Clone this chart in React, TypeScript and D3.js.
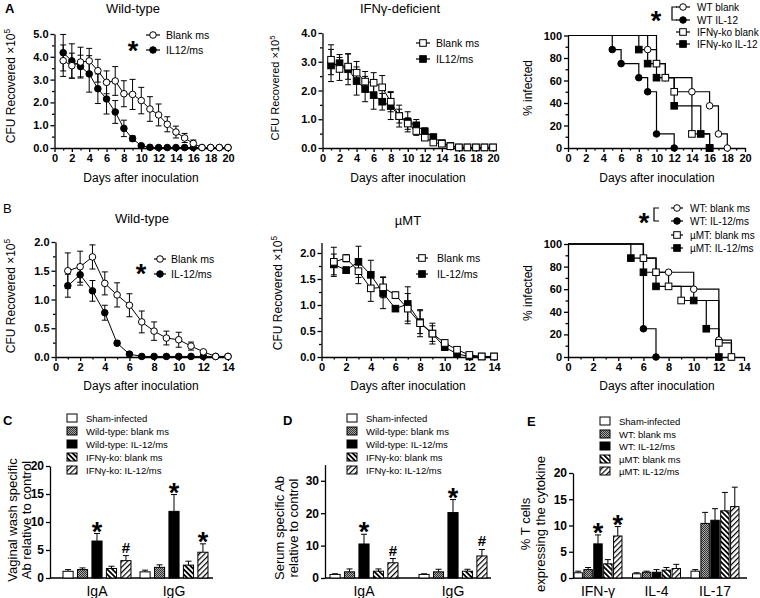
import React, { useEffect, useRef } from 'react'
import * as d3 from 'd3'

const FONT = "'Liberation Sans', Arial, Helvetica, sans-serif"

// ---- A: CFU time course, days 1-20
const daysA = [1, 2, 3, 4, 5, 6, 7, 8, 9, 10, 11, 12, 13, 14, 15, 16, 17, 18, 19, 20]
const wtBlankA = [3.83, 3.61, 3.77, 3.82, 3.39, 2.88, 2.94, 2.38, 2.35, 2.08, 1.71, 1.45, 1.04, 0.70, 0.44, 0.20, 0.02, 0.02, 0.02, 0.02]
const wtBlankAErr = [0.69, 0.55, 0.65, 0.55, 0.50, 0.50, 0.63, 0.57, 0.66, 0.58, 0.54, 0.48, 0.33, 0.26, 0.20, 0.15, 0, 0, 0, 0]
const wtIl12A = [4.18, 3.82, 3.57, 3.25, 2.60, 2.15, 1.58, 0.86, 0.41, 0.10, 0.03, 0.02, 0.02, 0.02, 0.02, 0.02, 0.02, 0.02, 0.02, 0.02]
const wtIl12AErr = [0.80, 0.75, 0.50, 0.80, 0.65, 0.66, 0.50, 0.36, 0.12, 0.04, 0, 0, 0, 0, 0, 0, 0, 0, 0, 0]
const koBlankA = [3.07, 2.75, 2.83, 2.62, 2.31, 2.27, 2.11, 1.61, 1.11, 0.85, 0.59, 0.36, 0.19, 0.15, 0.06, 0.02, 0.02, 0.02, 0.02, 0.02]
const koBlankAErr = [0.52, 0.40, 0.44, 0.39, 0.35, 0.35, 0.41, 0.35, 0.24, 0.20, 0.15, 0.10, 0.08, 0.05, 0.03, 0, 0, 0, 0, 0]
const koIl12A = [2.87, 2.95, 2.74, 2.33, 2.05, 1.84, 1.61, 1.46, 1.11, 0.91, 0.79, 0.58, 0.38, 0.17, 0.07, 0.02, 0.02, 0.02, 0.02, 0.02]
const koIl12AErr = [0.56, 0.30, 0.54, 0.49, 0.44, 0.49, 0.29, 0.47, 0.38, 0.35, 0.20, 0.12, 0.10, 0.05, 0.03, 0, 0, 0, 0, 0]

// ---- A: % infected (step curves: day of change, value)
const survA = [
  { label: 'WT blank', shape: 'circle', filled: false, t: [0, 9, 10, 11, 14, 16, 17, 18], v: [100, 87.5, 75, 62.5, 50, 37.5, 12.5, 0] },
  { label: 'WT IL-12', shape: 'circle', filled: true, t: [0, 5, 6, 8, 9, 10, 12], v: [100, 87.5, 75, 62.5, 50, 12.5, 0] },
  { label: 'IFNγ-ko blank', shape: 'square', filled: false, t: [0, 10, 11, 12, 14, 16], v: [100, 75, 62.5, 50, 12.5, 0] },
  { label: 'IFNγ-ko IL-12', shape: 'square', filled: true, t: [0, 8, 9, 10, 12, 15, 16], v: [100, 87.5, 75, 62.5, 37.5, 12.5, 0] },
]

// ---- B: CFU time course, days 1-14
const daysB = [1, 2, 3, 4, 5, 6, 7, 8, 9, 10, 11, 12, 13, 14]
const wtBlankB = [1.50, 1.57, 1.74, 1.28, 1.08, 0.90, 0.61, 0.45, 0.33, 0.30, 0.19, 0.09, 0.01, 0.01]
const wtBlankBErr = [0.31, 0.27, 0.21, 0.20, 0.21, 0.20, 0.19, 0.16, 0.12, 0.13, 0.07, 0.02, 0, 0]
const wtIl12B = [1.24, 1.43, 1.15, 0.77, 0.24, 0.05, 0.01, 0.01, 0.01, 0.01, 0.01, 0.01, 0.01, 0.01]
const wtIl12BErr = [0.20, 0.18, 0.18, 0.13, 0.04, 0.01, 0, 0, 0, 0, 0, 0, 0, 0]
const muBlankB = [1.83, 1.90, 1.65, 1.32, 1.34, 1.19, 0.93, 0.65, 0.45, 0.27, 0.14, 0.04, 0.01, 0.01]
const muBlankBErr = [0.28, 0.07, 0.24, 0.25, 0.20, 0.06, 0.29, 0.26, 0.20, 0.06, 0.03, 0.02, 0, 0]
const muIl12B = [1.78, 1.67, 1.83, 1.58, 1.23, 0.93, 1.02, 0.67, 0.45, 0.19, 0.06, 0.01, 0.01, 0.01]
const muIl12BErr = [0.20, 0.06, 0.30, 0.28, 0.30, 0.05, 0.33, 0.22, 0.15, 0.06, 0.03, 0, 0, 0]

const survB = [
  { label: 'WT: blank ms', shape: 'circle', filled: false, t: [0, 6, 7, 8, 10, 12, 13], v: [100, 87.5, 75, 75, 60, 15, 0] },
  { label: 'WT: IL-12/ms', shape: 'circle', filled: true, t: [0, 6, 7], v: [100, 25, 0] },
  { label: 'µMT: blank ms', shape: 'square', filled: false, t: [0, 6, 7, 8, 9, 12, 13], v: [100, 87.5, 75, 62.5, 50, 12.5, 0] },
  { label: 'µMT: IL-12/ms', shape: 'square', filled: true, t: [0, 5, 6, 7, 10, 11, 12], v: [100, 87.5, 75, 62.5, 50, 25, 0] },
]

// ---- C / D / E bar charts
const abGroups = ['IgA', 'IgG']
const koLegend = ['Sham-infected', 'Wild-type: blank ms', 'Wild-type: IL-12/ms', 'IFNγ-ko: blank ms', 'IFNγ-ko: IL-12/ms']
const vagIgA = [1.2, 1.5, 6.6, 1.7, 3.1]
const vagIgAErr = [0.3, 0.3, 1.35, 0.4, 0.9]
const vagIgG = [1.1, 1.9, 11.9, 2.3, 4.6]
const vagIgGErr = [0.3, 0.45, 3.0, 0.7, 1.5]
const vagMarks = [['', '', '*', '', '#'], ['', '', '*', '', '*']]

const serIgA = [1.1, 1.9, 10.5, 2.1, 4.7]
const serIgAErr = [0.2, 0.9, 3.0, 0.7, 1.3]
const serIgG = [1.1, 1.9, 20.2, 2.1, 6.8]
const serIgGErr = [0.2, 0.8, 4.0, 0.6, 2.0]
const serMarks = [['', '', '*', '', '#'], ['', '', '*', '', '#']]

const cytoGroups = ['IFN-γ', 'IL-4', 'IL-17']
const muLegend = ['Sham-infected', 'WT: blank ms', 'WT: IL-12/ms', 'µMT: blank ms', 'µMT: IL-12/ms']
const cytoIfn = [1.0, 1.6, 6.5, 2.7, 8.0]
const cytoIfnErr = [0.3, 0.4, 1.7, 0.8, 1.8]
const cytoIl4 = [0.8, 1.1, 1.1, 1.5, 1.8]
const cytoIl4Err = [0.2, 0.2, 0.5, 0.5, 0.8]
const cytoIl17 = [1.3, 10.4, 11.0, 12.8, 13.6]
const cytoIl17Err = [0.3, 2.1, 2.2, 3.5, 3.7]
const cytoMarks = [['', '', '*', '', '*'], ['', '', '', '', ''], ['', '', '', '', '']]

const BAR_FILLS = ['#fff', 'url(#pat-check)', '#000', 'url(#pat-back)', 'url(#pat-fwd)']

type Sel = d3.Selection<any, unknown, null, undefined>

function marker(g: Sel, shape: string, filled: boolean, x: number, y: number) {
  if (shape === 'circle') {
    g.append('circle').attr('cx', x).attr('cy', y).attr('r', 3.3)
      .attr('fill', filled ? '#000' : '#fff').attr('stroke', '#000').attr('stroke-width', 1)
  } else {
    g.append('rect').attr('x', x - 3.3).attr('y', y - 3.3).attr('width', 6.6).attr('height', 6.6)
      .attr('fill', filled ? '#000' : '#fff').attr('stroke', '#000').attr('stroke-width', 1)
  }
}

function txt(g: Sel, x: number, y: number, s: string, size: number, opts: any = {}) {
  return g.append('text').attr('x', x).attr('y', y).attr('font-family', FONT)
    .attr('font-size', size).attr('text-anchor', opts.anchor || 'middle')
    .attr('font-weight', opts.bold ? 'bold' : 'normal').attr('fill', '#000').text(s)
}

function rotLabel(g: Sel, x: number, y: number, s: string, size: number, sup?: string) {
  const t = g.append('text').attr('transform', `translate(${x},${y}) rotate(-90)`)
    .attr('font-family', FONT).attr('font-size', size).attr('text-anchor', 'middle')
  t.append('tspan').text(s)
  if (sup) t.append('tspan').attr('dy', -size * 0.4).attr('font-size', size * 0.7).text(sup)
}

function star(g: Sel, cx: number, cy: number, size = 27) {
  txt(g, cx, cy + size * 0.56, '*', size, { bold: true })
}

function axes(g: Sel, x: any, y: any, o: any) {
  const ax = o.yAxisX ?? x.range()[0]
  const y0 = y.range()[0]
  g.append('g').attr('transform', `translate(${ax},0)`)
    .call(d3.axisLeft(y).tickValues(o.yTicks).tickSize(4).tickSizeOuter(0).tickPadding(2).tickFormat(o.yFmt))
  if (o.yMinor) {
    g.append('g').attr('transform', `translate(${ax},0)`)
      .call(d3.axisLeft(y).tickValues(o.yMinor).tickSize(2.5).tickFormat(() => ''))
      .call(s => s.select('.domain').remove())
  }
  if (o.xTicks) {
    g.append('g').attr('transform', `translate(0,${y0})`)
      .call(d3.axisBottom(x).tickValues(o.xTicks).tickSize(4).tickSizeOuter(0).tickPadding(2).tickFormat(d3.format('d')))
    g.append('g').attr('transform', `translate(0,${y0})`)
      .call(d3.axisBottom(x).tickValues(o.xMinor).tickSize(2.5).tickFormat(() => ''))
      .call(s => s.select('.domain').remove())
  } else {
    g.append('line').attr('x1', ax).attr('x2', o.xEnd).attr('y1', y0).attr('y2', y0)
      .attr('stroke', '#000').attr('stroke-width', 1.3)
  }
  g.selectAll('.domain, .tick line').attr('stroke', '#000').attr('stroke-width', 1.3)
  g.selectAll('.tick text').attr('font-family', FONT).attr('font-weight', 'bold')
    .attr('font-size', o.tickSize || 11).attr('fill', '#000')
}

function linePanel(svg: Sel, x: any, y: any, days: number[], series: any[], ax: any) {
  const g = svg.append('g')
  axes(g, x, y, ax)
  series.forEach(s => {
    days.forEach((d, i) => {
      const e = s.errs[i]
      if (!e) return
      const lo = y(Math.max(0, s.vals[i] - e)), hi = y(s.vals[i] + e)
      g.append('line').attr('x1', x(d)).attr('x2', x(d)).attr('y1', lo).attr('y2', hi).attr('stroke', '#000').attr('stroke-width', 1)
      ;[lo, hi].forEach(yy => g.append('line').attr('x1', x(d) - 3).attr('x2', x(d) + 3).attr('y1', yy).attr('y2', yy)
        .attr('stroke', '#000').attr('stroke-width', 1))
    })
  })
  const line = d3.line<number>().x((_, i) => x(days[i])).y(v => y(v))
  series.forEach(s => {
    g.append('path').attr('d', line(s.vals)).attr('fill', 'none').attr('stroke', '#000').attr('stroke-width', 1)
  })
  series.slice().reverse().forEach(s => days.forEach((d, i) => marker(g, s.shape, s.filled, x(d), y(s.vals[i]))))
}

function survPanel(svg: Sel, x: any, y: any, curves: any[], ax: any) {
  const g = svg.append('g')
  axes(g, x, y, ax)
  curves.forEach(c => {
    const line = d3.line<number>().curve(d3.curveStepAfter).x((_, i) => x(c.t[i])).y(v => y(v))
    g.append('path').attr('d', line(c.v)).attr('fill', 'none').attr('stroke', '#000').attr('stroke-width', 1.2)
  })
  curves.forEach(c => c.t.forEach((t: number, i: number) => {
    if (i === 0) return
    marker(g, c.shape, c.filled, x(t), y(c.v[i]))
  }))
}

function lineLegend(g: Sel, items: any[], mx: number, tx: number, ys: number[], half = 7, size = 10.5) {
  items.forEach((it, i) => {
    g.append('line').attr('x1', mx - half).attr('x2', mx + half).attr('y1', ys[i]).attr('y2', ys[i])
      .attr('stroke', '#000').attr('stroke-width', 1.2)
    marker(g, it.shape, it.filled, mx, ys[i])
    txt(g, tx, ys[i] + size * 0.36, it.label, size, { anchor: 'start' })
  })
}

function barPanel(svg: Sel, o: any) {
  const g = svg.append('g')
  const y = d3.scaleLinear().domain(o.yDomain).range([578, o.yTop])
  const gx = d3.scaleBand().domain(o.groups).range(o.band).paddingInner(o.pi)
  const ix = d3.scaleBand<number>().domain([0, 1, 2, 3, 4]).range([0, gx.bandwidth()]).paddingInner(o.bpi)
  axes(g, null, y, { yTicks: o.yTicks, yFmt: d3.format('d'), yAxisX: o.x0, xEnd: o.xEnd, tickSize: 12 })
  o.groups.forEach((grp: string, gi: number) => {
    o.values[gi].forEach((v: number, i: number) => {
      const bx = gx(grp)! + ix(i)!
      const bw = ix.bandwidth()
      const cx = bx + bw / 2
      const top = y(v + o.errs[gi][i])
      g.append('line').attr('x1', cx).attr('x2', cx).attr('y1', y(v)).attr('y2', top).attr('stroke', '#000').attr('stroke-width', 1)
      g.append('line').attr('x1', cx - 3).attr('x2', cx + 3).attr('y1', top).attr('y2', top).attr('stroke', '#000').attr('stroke-width', 1)
      g.append('rect').attr('x', bx).attr('y', y(v)).attr('width', bw).attr('height', y(0) - y(v))
        .attr('fill', BAR_FILLS[i]).attr('stroke', '#000').attr('stroke-width', 1)
      const m = o.marks[gi][i]
      if (m === '*') star(g, cx, top - 8)
      if (m === '#') txt(g, cx, top - 3, '#', 15, { bold: true })
    })
    txt(g, gx(grp)! + gx.bandwidth() / 2, 596, grp, 14)
  })
  o.legend.forEach((s: string, i: number) => {
    const ly = o.legendY[i]
    g.append('rect').attr('x', o.lx).attr('y', ly - 4).attr('width', 10).attr('height', 8)
      .attr('fill', BAR_FILLS[i]).attr('stroke', '#000').attr('stroke-width', 1)
    txt(g, o.lx + 19, ly + 3.5, s, 9.5, { anchor: 'start' })
  })
  rotLabel(g, o.labX[0], o.labY, o.ylab[0], 13)
  rotLabel(g, o.labX[1], o.labY, o.ylab[1], 13)
  txt(g, o.letter[0], o.letter[1], o.letter[2], 13, { bold: true, anchor: 'start' })
}

export default function App() {
  const ref = useRef<SVGSVGElement>(null)

  useEffect(() => {
    const svg = d3.select(ref.current) as Sel
    svg.selectAll('*').remove()

    const defs = svg.append('defs')
    const chk = defs.append('pattern').attr('id', 'pat-check').attr('patternUnits', 'userSpaceOnUse').attr('width', 2).attr('height', 2)
    chk.append('rect').attr('width', 2).attr('height', 2).attr('fill', '#a8a8a8')
    chk.append('rect').attr('width', 1).attr('height', 1).attr('fill', '#333')
    chk.append('rect').attr('x', 1).attr('y', 1).attr('width', 1).attr('height', 1).attr('fill', '#333')
    const back = defs.append('pattern').attr('id', 'pat-back').attr('patternUnits', 'userSpaceOnUse')
      .attr('width', 3.6).attr('height', 10).attr('patternTransform', 'rotate(-45)')
    back.append('rect').attr('width', 3.6).attr('height', 10).attr('fill', '#fff')
    back.append('rect').attr('width', 1.8).attr('height', 10).attr('fill', '#000')
    const fwd = defs.append('pattern').attr('id', 'pat-fwd').attr('patternUnits', 'userSpaceOnUse')
      .attr('width', 3.8).attr('height', 10).attr('patternTransform', 'rotate(45)')
    fwd.append('rect').attr('width', 3.8).attr('height', 10).attr('fill', '#fff')
    fwd.append('rect').attr('width', 1.2).attr('height', 10).attr('fill', '#000')

    const ev2 = [0, 2, 4, 6, 8, 10, 12, 14, 16, 18, 20]
    const odd20 = daysA.filter(d => d % 2 === 1)
    const ev14 = [0, 2, 4, 6, 8, 10, 12, 14]
    const odd14 = daysB.filter(d => d % 2 === 1)
    const f1 = d3.format('.1f')

    // ---------- A left
    const xAL = d3.scaleLinear().domain([0, 20]).range([54.5, 228])
    const yAL = d3.scaleLinear().domain([0, 5]).range([148, 34])
    linePanel(svg, xAL, yAL, daysA, [
      { vals: wtBlankA, errs: wtBlankAErr, shape: 'circle', filled: false },
      { vals: wtIl12A, errs: wtIl12AErr, shape: 'circle', filled: true },
    ], { yTicks: [0, 1, 2, 3, 4, 5], yMinor: [0.5, 1.5, 2.5, 3.5, 4.5], yFmt: f1, xTicks: ev2, xMinor: odd20 })
    txt(svg, 5, 13, 'A', 13, { bold: true, anchor: 'start' })
    txt(svg, 133, 13, 'Wild-type', 13)
    rotLabel(svg, 15, 86, 'CFU Recovered ×10', 12, '5')
    txt(svg, 141, 182, 'Days after inoculation', 12)
    lineLegend(svg, [{ shape: 'circle', filled: false, label: 'Blank ms' }, { shape: 'circle', filled: true, label: 'IL12/ms' }], 153, 166, [35, 50])
    star(svg, 133, 45)

    // ---------- A middle
    const xAM = d3.scaleLinear().domain([0, 20]).range([322.5, 493])
    const yAM = d3.scaleLinear().domain([0, 4]).range([148, 33])
    linePanel(svg, xAM, yAM, daysA, [
      { vals: koBlankA, errs: koBlankAErr, shape: 'square', filled: false },
      { vals: koIl12A, errs: koIl12AErr, shape: 'square', filled: true },
    ], { yTicks: [0, 1, 2, 3, 4], yMinor: [0.5, 1.5, 2.5, 3.5], yFmt: f1, xTicks: ev2, xMinor: odd20 })
    txt(svg, 400, 13, 'IFNγ-deficient', 13)
    rotLabel(svg, 279, 88, 'CFU Recovered ×10', 11, '5')
    txt(svg, 408, 182, 'Days after inoculation', 12)
    lineLegend(svg, [{ shape: 'square', filled: false, label: 'Blank ms' }, { shape: 'square', filled: true, label: 'IL12/ms' }], 423, 436, [43, 59])

    // ---------- A right
    const xAR = d3.scaleLinear().domain([0, 20]).range([568, 745])
    const yAR = d3.scaleLinear().domain([0, 100]).range([148, 35.5])
    survPanel(svg, xAR, yAR, survA, { yTicks: [0, 20, 40, 60, 80, 100], yMinor: [10, 30, 50, 70, 90], yFmt: d3.format('d'), xTicks: ev2, xMinor: odd20 })
    rotLabel(svg, 532, 88, '% infected', 12)
    txt(svg, 657, 182, 'Days after inoculation', 12)
    lineLegend(svg, survA, 683, 697, [7, 20, 32, 44], 7, 10)
    svg.append('path').attr('d', 'M677,7 H672 V20 H677').attr('fill', 'none').attr('stroke', '#000').attr('stroke-width', 1.2)
    star(svg, 656, 15)

    // ---------- B left
    const xBL = d3.scaleLinear().domain([0, 14]).range([55.5, 228])
    const yBL = d3.scaleLinear().domain([0, 2]).range([357, 242])
    linePanel(svg, xBL, yBL, daysB, [
      { vals: wtBlankB, errs: wtBlankBErr, shape: 'circle', filled: false },
      { vals: wtIl12B, errs: wtIl12BErr, shape: 'circle', filled: true },
    ], { yTicks: [0, 0.5, 1, 1.5, 2], yMinor: [0.25, 0.75, 1.25, 1.75], yFmt: f1, xTicks: ev14, xMinor: odd14 })
    txt(svg, 3, 213, 'B', 13, { anchor: 'start' })
    txt(svg, 142, 223, 'Wild-type', 13)
    rotLabel(svg, 15, 296, 'CFU Recovered ×10', 12, '5')
    txt(svg, 141, 390, 'Days after inoculation', 12)
    lineLegend(svg, [{ shape: 'circle', filled: false, label: 'Blank ms' }, { shape: 'circle', filled: true, label: 'IL-12/ms' }], 160, 171, [259, 274], 6)
    star(svg, 141, 268)

    // ---------- B middle
    const xBM = d3.scaleLinear().domain([0, 14]).range([321.5, 494])
    const yBM = d3.scaleLinear().domain([0, 2.2]).range([357, 242.6])
    linePanel(svg, xBM, yBM, daysB, [
      { vals: muBlankB, errs: muBlankBErr, shape: 'square', filled: false },
      { vals: muIl12B, errs: muIl12BErr, shape: 'square', filled: true },
    ], { yTicks: [0, 0.5, 1, 1.5, 2], yMinor: [0.25, 0.75, 1.25, 1.75], yFmt: f1, xTicks: ev14, xMinor: odd14 })
    txt(svg, 408, 225, 'µMT', 13)
    rotLabel(svg, 282, 293, 'CFU Recovered ×10', 12, '5')
    txt(svg, 408, 390, 'Days after inoculation', 12)
    lineLegend(svg, [{ shape: 'square', filled: false, label: 'Blank ms' }, { shape: 'square', filled: true, label: 'IL-12/ms' }], 422, 437, [258, 274], 6)

    // ---------- B right
    const xBR = d3.scaleLinear().domain([0, 14]).range([568, 744])
    const yBR = d3.scaleLinear().domain([0, 100]).range([357, 244])
    survPanel(svg, xBR, yBR, survB, { yTicks: [0, 20, 40, 60, 80, 100], yMinor: [10, 30, 50, 70, 90], yFmt: d3.format('d'), xTicks: ev14, xMinor: odd14 })
    rotLabel(svg, 532, 293, '% infected', 12)
    txt(svg, 657, 390, 'Days after inoculation', 12)
    lineLegend(svg, survB, 677, 690, [208, 221, 235, 248], 6, 10)
    svg.append('path').attr('d', 'M659,208 H654 V221 H659').attr('fill', 'none').attr('stroke', '#000').attr('stroke-width', 1.2)
    star(svg, 644, 217)

    // ---------- C
    barPanel(svg, {
      groups: abGroups, values: [vagIgA, vagIgG], errs: [vagIgAErr, vagIgGErr], marks: vagMarks,
      yDomain: [0, 20], yTop: 466, yTicks: [0, 5, 10, 15, 20], x0: 50, xEnd: 213, band: [63, 208], pi: 0.117, bpi: 0.3,
      legend: koLegend, legendY: [418, 431, 444, 457, 470], lx: 67,
      ylab: ['Vaginal wash specific', 'Ab relative to control'], labX: [17, 31], labY: 520, letter: [3, 425, 'C'],
    })
    // ---------- D
    barPanel(svg, {
      groups: abGroups, values: [serIgA, serIgG], errs: [serIgAErr, serIgGErr], marks: serMarks,
      yDomain: [0, 35], yTop: 464.6, yTicks: [0, 10, 20, 30], x0: 325, xEnd: 491, band: [330, 487], pi: 0.236, bpi: 0.3,
      legend: koLegend, legendY: [418, 431, 444, 457, 470], lx: 347,
      ylab: ['Serum specific Ab', 'relative to control'], labX: [284, 298], labY: 528, letter: [283, 425, 'D'],
    })
    // ---------- E
    barPanel(svg, {
      groups: cytoGroups, values: [cytoIfn, cytoIl4, cytoIl17], errs: [cytoIfnErr, cytoIl4Err, cytoIl17Err], marks: cytoMarks,
      yDomain: [0, 20], yTop: 473, yTicks: [0, 5, 10, 15, 20], x0: 573, xEnd: 747, band: [574, 739], pi: 0.18, bpi: 0.15,
      legend: muLegend, legendY: [421, 434, 446, 459, 471], lx: 600,
      ylab: ['% T cells', 'expressing the cytokine'], labX: [530, 545], labY: 524, letter: [527, 426, 'E'],
    })
  }, [])

  return (
    <svg ref={ref} width={760} height={598}
      style={{ position: 'absolute', left: 0, top: 0, background: '#fff', display: 'block' }} />
  )
}
